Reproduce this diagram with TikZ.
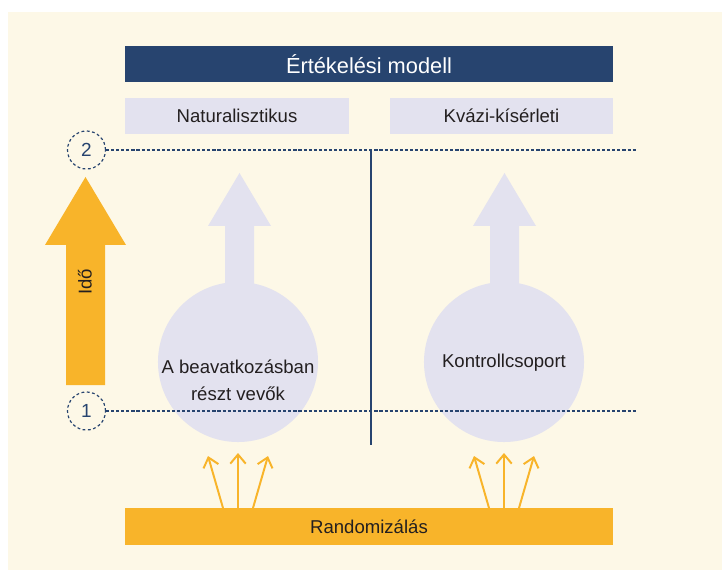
\documentclass[tikz,border=0pt]{standalone}
\usepackage{fontspec}
\setmainfont{Liberation Sans}
\usetikzlibrary{arrows.meta,positioning}
\definecolor{cream}{HTML}{FDF8E7}
\definecolor{navy}{HTML}{27446F}
\definecolor{lilac}{HTML}{E3E2EF}
\definecolor{amber}{HTML}{F8B42A}
\definecolor{ink}{HTML}{231F20}
\begin{document}
\begin{tikzpicture}[x=0.025cm,y=-0.025cm,
  headbox/.style={rectangle,fill=navy,text=white,minimum width=12.2cm,minimum height=0.9cm,font=\fontsize{15.5}{18}\selectfont},
  typebox/.style={rectangle,fill=lilac,text=ink,minimum width=5.6cm,minimum height=0.9cm,font=\fontsize{13.2}{16}\selectfont},
  randbox/.style={rectangle,fill=amber,text=ink,minimum width=12.2cm,minimum height=0.925cm,font=\fontsize{13.2}{16}\selectfont},
  group/.style={circle,fill=lilac,minimum size=4cm,inner sep=0pt},
  grouptext/.style={text=ink,align=center,font=\fontsize{13.2}{19.2}\selectfont},
  timept/.style={circle,draw=navy,line width=0.85pt,dash pattern=on 2pt off 1.8pt,minimum size=0.95cm,inner sep=0pt,text=navy,font=\fontsize{13.5}{16}\selectfont},
  timeline/.style={navy,line width=0.9pt,dash pattern=on 2.2pt off 1.4pt},
  drawarrow/.style={amber,line width=1.4pt,-{Straight Barb[length=6.5pt,width=11pt]}}]

  % background
  \fill[white] (0,0) rectangle (722,570);
  \fill[cream] (8,12) rectangle (722,570);

  % model boxes
  \node [headbox] (model) at (369,64) {Értékelési modell};
  \node [typebox] (natural) at (237,116) {Naturalisztikus};
  \node [typebox,minimum width=5.575cm] (quasi) at (501.5,116) {Kvázi-kísérleti};

  % time arrow
  \fill[amber] (66,385) -- (66,245) -- (45,245) -- (85.5,177) -- (126,245) -- (105,245) -- (105,385) -- cycle;
  \node [rotate=90,text=ink,font=\fontsize{13.2}{16}\selectfont] (ido) at (85,282) {Idő};

  % lilac arrows over the groups
  \fill[lilac] (225,300) -- (225,226) -- (208,226) -- (239.5,173) -- (271,226) -- (254,226) -- (254,300) -- cycle;
  \fill[lilac] (490,300) -- (490,226) -- (473,226) -- (504.5,173) -- (536,226) -- (519,226) -- (519,300) -- cycle;

  % groups
  \node [group] (treated) at (238,362) {};
  \node [group] (control) at (504,362) {};
  \node [grouptext] (treatedtxt) at (238,380) {A beavatkozásban\\részt vevők};
  \node [grouptext] (controltxt) at (504,363) {Kontrollcsoport};

  % time points
  \node [timept] (t2) at (86.5,150) {2};
  \node [timept] (t1) at (86.5,411) {1};
  \coordinate (t2end) at (637,150);
  \coordinate (t1end) at (637,411);
  \draw [timeline] (t2) -- (t2end);
  \draw [timeline] (t1) -- (t1end);

  % divider
  \coordinate (divtop) at (371,150);
  \coordinate (divbot) at (371,445);
  \draw [navy,line width=1.9pt] (divtop) -- (divbot);

  % randomisation
  \node [randbox] (rand) at (369,526.5) {Randomizálás};
  \foreach \cx/\name in {238/a,504/b} {
    \coordinate (\name1) at (\cx-15,508);
    \coordinate (\name2) at (\cx,508);
    \coordinate (\name3) at (\cx+15,508);
    \coordinate (\name1e) at (\cx-30,456);
    \coordinate (\name2e) at (\cx,453);
    \coordinate (\name3e) at (\cx+30,456);
    \draw [drawarrow] (\name1) -- (\name1e);
    \draw [drawarrow] (\name2) -- (\name2e);
    \draw [drawarrow] (\name3) -- (\name3e);
  }
\end{tikzpicture}
\end{document}
